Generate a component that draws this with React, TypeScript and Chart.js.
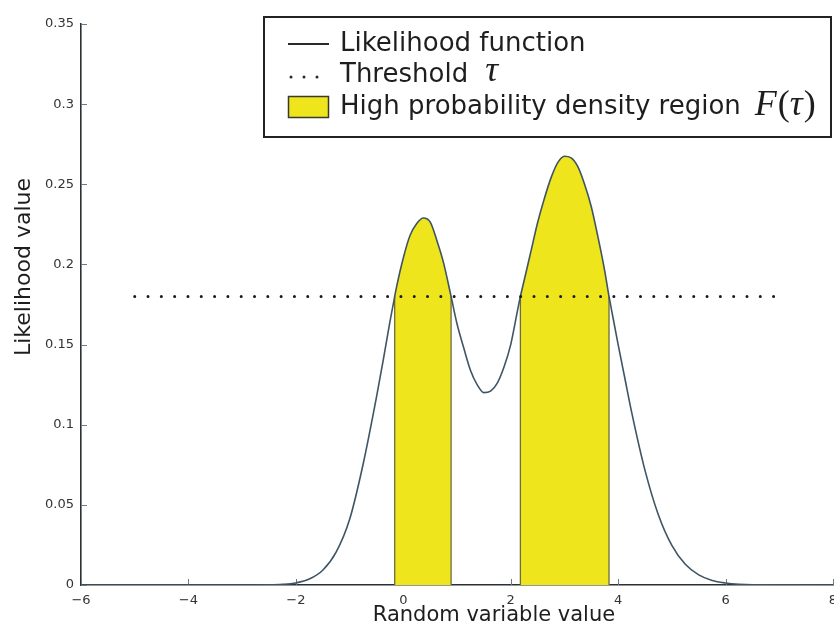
import React, { useEffect, useRef } from "react";
import { Chart, registerables } from "chart.js";

Chart.register(...registerables);

// ---- data ----
const xValues = [-6, -3, -2.5, -2.25, -2, -1.75, -1.5, -1.25, -1, -0.75, -0.5, -0.375, -0.25, -0.16, -0.125, 0, 0.125, 0.25, 0.375, 0.5, 0.625, 0.75, 0.89, 1, 1.125, 1.25, 1.375, 1.5, 1.625, 1.75, 1.875, 2, 2.125, 2.18, 2.25, 2.375, 2.5, 2.625, 2.75, 2.875, 3, 3.125, 3.25, 3.375, 3.5, 3.625, 3.75, 3.83, 3.875, 4, 4.125, 4.25, 4.5, 4.75, 5, 5.25, 5.5, 5.75, 6, 6.25, 6.5, 8];
const likelihood = [0, 0, 0.0001, 0.0004, 0.0013, 0.0037, 0.0092, 0.0205, 0.0408, 0.075, 0.117, 0.14, 0.164, 0.18, 0.186, 0.204, 0.218, 0.2255, 0.229, 0.2265, 0.215, 0.201, 0.18, 0.163, 0.148, 0.134, 0.125, 0.12, 0.121, 0.126, 0.136, 0.15, 0.171, 0.18, 0.19, 0.208, 0.226, 0.241, 0.254, 0.2635, 0.2675, 0.2665, 0.261, 0.25, 0.236, 0.217, 0.196, 0.18, 0.172, 0.15, 0.129, 0.108, 0.0715, 0.0437, 0.0247, 0.0129, 0.0063, 0.0028, 0.0012, 0.0004, 0.0001, 0];
const thresholdValue = 0.18;
const thresholdRange = [-5, 7];
const hpdRegions = [
  [-0.16, 0.89],
  [2.18, 3.83],
];
const xTicks = [-6, -4, -2, 0, 2, 4, 6, 8];
const yTicks = [0, 0.05, 0.1, 0.15, 0.2, 0.25, 0.3, 0.35];
const xAxisTitle = "Random variable value";
const yAxisTitle = "Likelihood value";
const legendCurve = "Likelihood function";
const legendThreshold = "Threshold";
const legendRegion = "High probability density region";

const YELLOW = "#eee51c";
const CURVE = "#3f5564";
const INK = "#1e1e1e";
const SANS = '"DejaVu Sans", sans-serif';
const SERIF = '"Liberation Serif", "DejaVu Serif", serif';

const inRegion = (a: number, b: number) =>
  hpdRegions.some(([lo, hi]) => a >= lo - 1e-9 && b <= hi + 1e-9);

const fmtX = (v: number) => (v < 0 ? "\u2212" + Math.abs(v) : String(v));
const fmtY = (v: number) => String(parseFloat(v.toFixed(2)));

function drawMath(ctx: CanvasRenderingContext2D, parts: [string, boolean][], x: number, y: number, size: number) {
  let cx = x;
  parts.forEach(([t, italic]) => {
    ctx.font = `${italic ? "italic " : ""}${size}px ${SERIF}`;
    ctx.fillText(t, cx, y);
    cx += ctx.measureText(t).width + (italic ? 1 : 0);
  });
}

const decor = {
  id: "decor",
  beforeDatasetsDraw(chart: any) {
    const { ctx, chartArea, scales } = chart;
    const x = scales.x;
    const y = scales.y;
    ctx.save();
    ctx.strokeStyle = "#6a7a86";
    ctx.lineWidth = 1;
    xTicks.forEach((v) => {
      const px = Math.round(x.getPixelForValue(v)) + 0.5;
      ctx.beginPath();
      ctx.moveTo(px, chartArea.bottom);
      ctx.lineTo(px, chartArea.bottom - 6);
      ctx.stroke();
    });
    yTicks.forEach((v) => {
      const py = Math.round(y.getPixelForValue(v)) + 0.5;
      ctx.beginPath();
      ctx.moveTo(chartArea.left, py);
      ctx.lineTo(chartArea.left + 6, py);
      ctx.stroke();
    });
    ctx.restore();
  },
  afterDraw(chart: any) {
    const { ctx } = chart;
    ctx.save();
    // axis titles
    ctx.fillStyle = INK;
    ctx.font = `21px ${SANS}`;
    ctx.textAlign = "center";
    ctx.textBaseline = "middle";
    ctx.fillText(xAxisTitle, 494, 616);
    ctx.save();
    ctx.translate(24, 267);
    ctx.rotate(-Math.PI / 2);
    ctx.font = `22px ${SANS}`;
    ctx.fillText(yAxisTitle, 0, 0);
    ctx.restore();

    // legend box
    const L = 264, T = 17, R = 831, B = 137;
    ctx.fillStyle = "#ffffff";
    ctx.fillRect(L, T, R - L, B - T);
    ctx.strokeStyle = "#222222";
    ctx.lineWidth = 2;
    ctx.strokeRect(L, T, R - L, B - T);

    const tx = 340;
    const r1 = 44, r2 = 75, r3 = 107;
    // row 1: solid line
    ctx.strokeStyle = "#2a2a2a";
    ctx.lineWidth = 2.2;
    ctx.beginPath();
    ctx.moveTo(288, r1);
    ctx.lineTo(329, r1);
    ctx.stroke();
    // row 2: dots
    ctx.fillStyle = "#2a2a2a";
    [291, 304, 317].forEach((dx) => {
      ctx.beginPath();
      ctx.arc(dx, r2 + 2, 1.5, 0, Math.PI * 2);
      ctx.fill();
    });
    // row 3: yellow patch
    ctx.fillStyle = YELLOW;
    ctx.fillRect(288.5, 96.5, 40, 21);
    ctx.strokeStyle = "#3a3a2a";
    ctx.lineWidth = 1.5;
    ctx.strokeRect(288.5, 96.5, 40, 21);

    ctx.fillStyle = INK;
    ctx.textAlign = "left";
    ctx.textBaseline = "middle";
    ctx.font = `26px ${SANS}`;
    ctx.fillText(legendCurve, tx, r1);
    ctx.fillText(legendThreshold, tx, r2);
    const wTh = ctx.measureText(legendThreshold).width;
    ctx.fillText(legendRegion, tx, r3);
    const wReg = ctx.measureText(legendRegion).width;
    drawMath(ctx, [["\u03c4", true]], tx + wTh + 17, r2 - 3, 36);
    drawMath(
      ctx,
      [
        ["F", true],
        ["(", false],
        ["\u03c4", true],
        [")", false],
      ],
      tx + wReg + 14,
      r3 - 1,
      36
    );
    ctx.restore();
  },
};

export default function App() {
  const ref = useRef<HTMLCanvasElement | null>(null);

  useEffect(() => {
    if (!ref.current) return;
    const curvePts = xValues.map((x, i) => ({ x, y: likelihood[i] }));
    const edgeSets: any[] = [];
    hpdRegions.forEach(([lo, hi]) => {
      [lo, hi].forEach((b) => {
        const idx = xValues.indexOf(b);
        edgeSets.push({
          label: "edge",
          data: [
            { x: b, y: 0 },
            { x: b, y: likelihood[idx] },
          ],
          borderColor: "#6d6d3c",
          borderWidth: 1.3,
          pointRadius: 0,
          fill: false,
        });
      });
    });

    const chart = new Chart(ref.current, {
      type: "line",
      data: {
        datasets: [
          {
            label: "Threshold",
            data: thresholdRange.map((x) => ({ x, y: thresholdValue })),
            borderColor: "#1a1a1a",
            borderWidth: 3,
            borderDash: [0.01, 13.3],
            borderCapStyle: "round",
            pointRadius: 0,
            fill: false,
          },
          {
            label: "Likelihood function",
            data: curvePts,
            borderColor: CURVE,
            borderWidth: 1.6,
            pointRadius: 0,
            cubicInterpolationMode: "monotone",
            fill: false,
          },
          ...edgeSets,
          {
            label: "HPD region",
            data: curvePts,
            borderWidth: 0,
            borderColor: "rgba(0,0,0,0)",
            pointRadius: 0,
            cubicInterpolationMode: "monotone",
            fill: "origin",
            backgroundColor: YELLOW,
            segment: {
              backgroundColor: (c: any) =>
                inRegion(c.p0.parsed.x, c.p1.parsed.x) ? YELLOW : "rgba(0,0,0,0)",
            },
          },
        ] as any,
      },
      options: {
        responsive: false,
        animation: false,
        events: [],
        devicePixelRatio: 1,
        layout: { padding: { top: 24, right: 1, left: 0, bottom: 0 } },
        plugins: {
          legend: { display: false },
          tooltip: { enabled: false },
        },
        scales: {
          x: {
            type: "linear",
            min: -6,
            max: 8,
            afterBuildTicks: (s: any) => {
              s.ticks = xTicks.map((v) => ({ value: v }));
            },
            afterFit: (s: any) => {
              s.height = 47;
              s.paddingLeft = 0;
              s.paddingRight = 0;
            },
            grid: { display: false, drawTicks: false },
            border: { display: true, color: "#2b3035", width: 1.6 },
            ticks: {
              padding: 8,
              color: "#333333",
              font: { family: SANS, size: 13 },
              maxRotation: 0,
              autoSkip: false,
              callback: (v: any) => fmtX(Number(v)),
            },
          },
          y: {
            type: "linear",
            min: 0,
            max: 0.35,
            afterBuildTicks: (s: any) => {
              s.ticks = yTicks.map((v) => ({ value: v }));
            },
            afterFit: (s: any) => {
              s.width = 81;
              s.paddingTop = 0;
              s.paddingBottom = 0;
            },
            grid: { display: false, drawTicks: false },
            border: { display: true, color: "#2b3035", width: 1.6 },
            ticks: {
              padding: 7,
              color: "#333333",
              font: { family: SANS, size: 13 },
              autoSkip: false,
              callback: (v: any) => fmtY(Number(v)),
            },
          },
        },
      } as any,
      plugins: [decor],
    });
    return () => chart.destroy();
  }, []);

  return (
    <div style={{ position: "absolute", left: 0, top: 0, width: 834, height: 632, background: "#fff" }}>
      <canvas ref={ref} width={834} height={632} style={{ display: "block" }} />
    </div>
  );
}
